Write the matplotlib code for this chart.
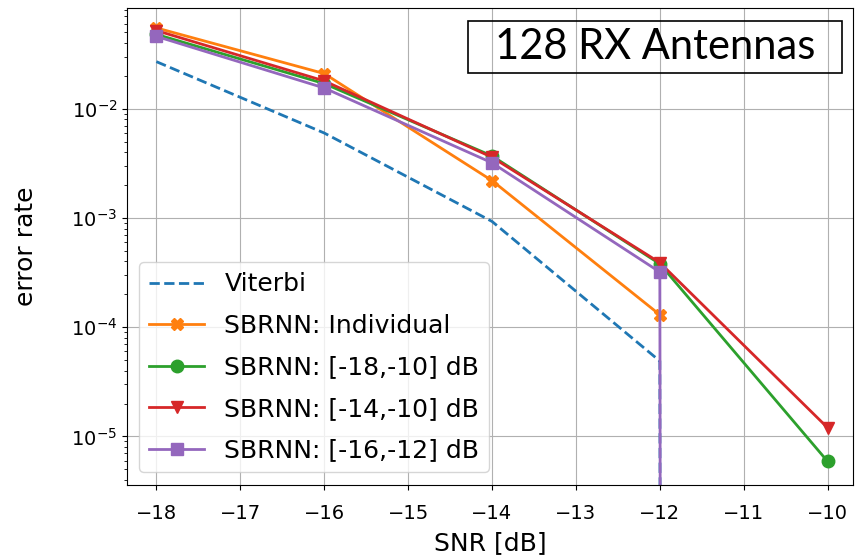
import matplotlib
matplotlib.use("Agg")
import matplotlib.pyplot as plt
from matplotlib.patches import Rectangle

# SNR sweep and error rates per detector
snr = [-18, -16, -14, -12, -10]
viterbi = [2.7e-2, 6.0e-3, 9.3e-4, 4.9e-5, 0.0]
sbrnn_individual = [5.5e-2, 2.1e-2, 2.2e-3, 1.3e-4]
sbrnn_18_10 = [4.8e-2, 1.7e-2, 3.7e-3, 3.8e-4, 5.9e-6]
sbrnn_14_10 = [5.2e-2, 1.8e-2, 3.6e-3, 3.9e-4, 1.2e-5]
sbrnn_16_12 = [4.6e-2, 1.55e-2, 3.2e-3, 3.2e-4, 0.0]

fig = plt.figure(figsize=(8.61, 5.58), dpi=100)
ax = fig.add_axes([0.1475, 0.131, 0.843, 0.855])

ax.plot(snr, viterbi, '--', color='C0', lw=2, label='Viterbi')
ax.plot(snr[:4], sbrnn_individual, '-X', color='C1', lw=2, ms=9, label='SBRNN: Individual')
ax.plot(snr, sbrnn_18_10, '-o', color='C2', lw=2, ms=9, label='SBRNN: [-18,-10] dB')
ax.plot(snr, sbrnn_14_10, '-v', color='C3', lw=2, ms=9, label='SBRNN: [-14,-10] dB')
ax.plot(snr, sbrnn_16_12, '-s', color='C4', lw=2, ms=9, label='SBRNN: [-16,-12] dB')

ax.set_yscale('log')
ax.set_xlim(-18.35, -9.7)
ax.set_ylim(3.6e-6, 8.4e-2)
ax.set_xticks(range(-18, -9))
ax.grid(True)
ax.tick_params(labelsize=14)
ax.tick_params(axis='x', pad=10)
ax.set_xlabel('SNR [dB]', fontsize=18, labelpad=6)
ax.set_ylabel('error rate', fontsize=18)
ax.yaxis.set_label_coords(-0.122, 0.5)
ax.legend(loc='lower left', fontsize=18, handlelength=2.2, labelspacing=0.7)

# caption box, no fill so the grid shows through
ax.add_patch(Rectangle((0.47, 0.863), 0.515, 0.11, transform=ax.transAxes,
                       fill=False, ec='black', lw=1.2, zorder=5))
ax.text(0.7275, 0.918, '128 RX Antennas', transform=ax.transAxes,
        ha='center', va='center', fontsize=30, family='Lato', zorder=5)

plt.savefig('out.png', dpi=100)
